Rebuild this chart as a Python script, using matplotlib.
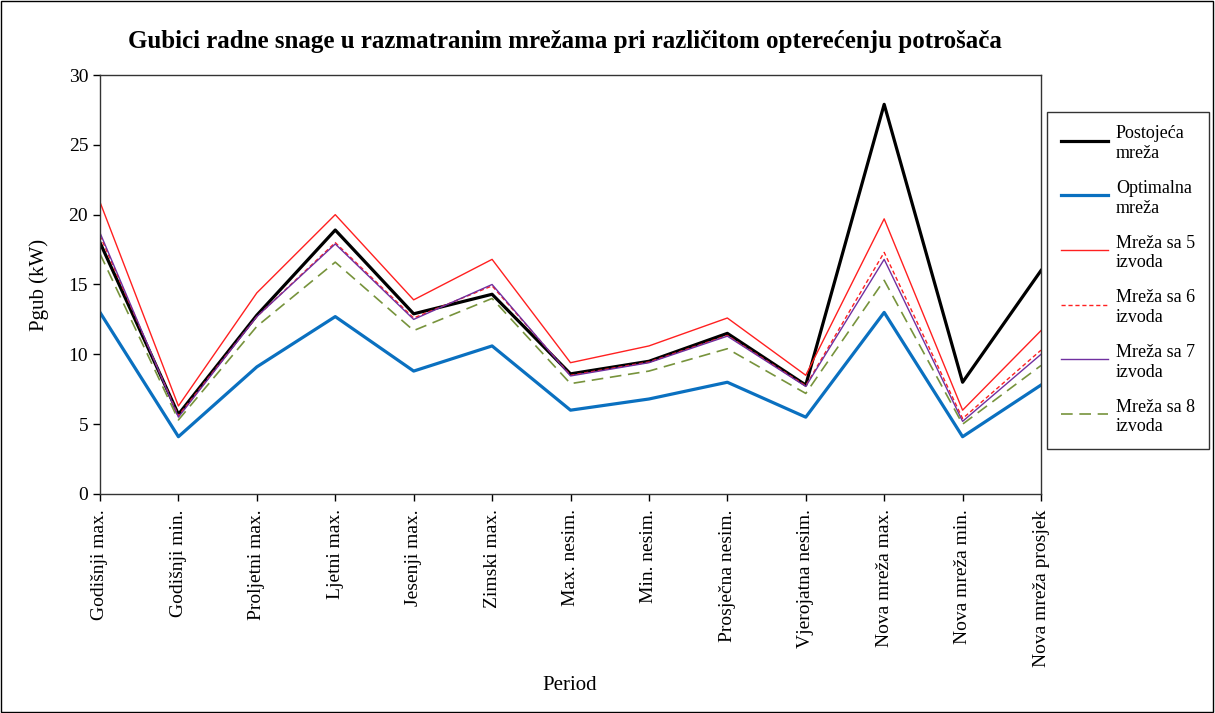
import matplotlib
matplotlib.use("Agg")
import matplotlib.pyplot as plt
from matplotlib.patches import Rectangle
from matplotlib.legend_handler import HandlerLine2D

plt.rcParams["font.family"] = ["Liberation Serif", "DejaVu Serif"]

periods = [
    "Godišnji max.", "Godišnji min.", "Proljetni max.", "Ljetni max.",
    "Jesenji max.", "Zimski max.", "Max. nesim.", "Min. nesim.",
    "Prosječna nesim.", "Vjerojatna nesim.", "Nova mreža max.",
    "Nova mreža min.", "Nova mreža prosjek",
]

postojeca = [18.0, 5.7, 12.8, 18.9, 12.9, 14.3, 8.6, 9.5, 11.5, 7.8, 27.9, 8.0, 16.0]
optimalna = [13.0, 4.1, 9.1, 12.7, 8.8, 10.6, 6.0, 6.8, 8.0, 5.5, 13.0, 4.1, 7.8]
izvoda_5 = [20.9, 6.3, 14.4, 20.0, 13.9, 16.8, 9.4, 10.6, 12.6, 8.5, 19.7, 6.0, 11.7]
izvoda_6 = [18.5, 5.6, 12.7, 18.0, 12.6, 14.9, 8.5, 9.45, 11.35, 7.75, 17.3, 5.4, 10.3]
izvoda_7 = [18.7, 5.5, 12.7, 17.9, 12.5, 15.0, 8.45, 9.4, 11.3, 7.7, 16.8, 5.2, 10.0]
izvoda_8 = [17.2, 5.3, 12.0, 16.6, 11.7, 14.0, 7.9, 8.8, 10.4, 7.2, 15.3, 5.0, 9.2]


class TopLineHandler(HandlerLine2D):
    """Put the legend line next to the first row of a two-row label."""

    def create_artists(self, legend, orig_handle, xdescent, ydescent,
                       width, height, fontsize, trans):
        return super().create_artists(legend, orig_handle, xdescent, ydescent - height * 0.5,
                                      width, height, fontsize, trans)


fig = plt.figure(figsize=(12.15, 7.13), dpi=100)
ax = fig.add_axes([0.0823, 0.3072, 0.7745, 0.5876])

x = range(len(periods))
ax.plot(x, postojeca, color="#000000", lw=2.3, label="Postojeća\nmreža")
ax.plot(x, optimalna, color="#0A70C0", lw=2.3, label="Optimalna\nmreža")
ax.plot(x, izvoda_5, color="#FF2020", lw=1.0, label="Mreža sa 5\nizvoda")
ax.plot(x, izvoda_6, color="#FF2020", lw=1.0, ls=(0, (3, 2)), label="Mreža sa 6\nizvoda")
ax.plot(x, izvoda_7, color="#7030A0", lw=1.0, label="Mreža sa 7\nizvoda")
ax.plot(x, izvoda_8, color="#77933C", lw=1.2, ls=(0, (7, 4)), label="Mreža sa 8\nizvoda")

ax.set_xlim(0, len(periods) - 1)
ax.set_ylim(0, 30)
ax.set_yticks(range(0, 31, 5))
ax.set_xticks(list(x))
ax.set_xticklabels(periods, rotation=90, fontsize=14)
ax.tick_params(axis="y", labelsize=14, direction="out", length=5, width=1)
ax.tick_params(axis="x", direction="out", length=5, width=1, pad=6)
for s in ax.spines.values():
    s.set_color("#333333")
    s.set_linewidth(1.0)

ax.set_ylabel("Pgub (kW)", fontsize=15, labelpad=14)
fig.text(0.469, 0.039, "Period", ha="center", va="center", fontsize=15)
fig.text(0.465, 0.942, "Gubici radne snage u razmatranim mrežama pri različitom opterećenju potrošača",
         ha="center", va="center", fontsize=18, fontweight="bold")

leg = ax.legend(loc="upper left", bbox_to_anchor=(0.862, 0.843), bbox_transform=fig.transFigure,
                fontsize=13, frameon=True, fancybox=False, borderpad=0.75, handlelength=2.6,
                handletextpad=0.45, labelspacing=1.0, borderaxespad=0,
                handler_map={plt.Line2D: TopLineHandler()})
leg.get_frame().set_edgecolor("#000000")
leg.get_frame().set_linewidth(1.0)

# outer frame around the whole chart area
fig.patches.append(Rectangle((0.001, 0.001), 0.997, 0.997, transform=fig.transFigure,
                             fill=False, edgecolor="#000000", linewidth=1.0))

fig.savefig("out.png", dpi=100)
